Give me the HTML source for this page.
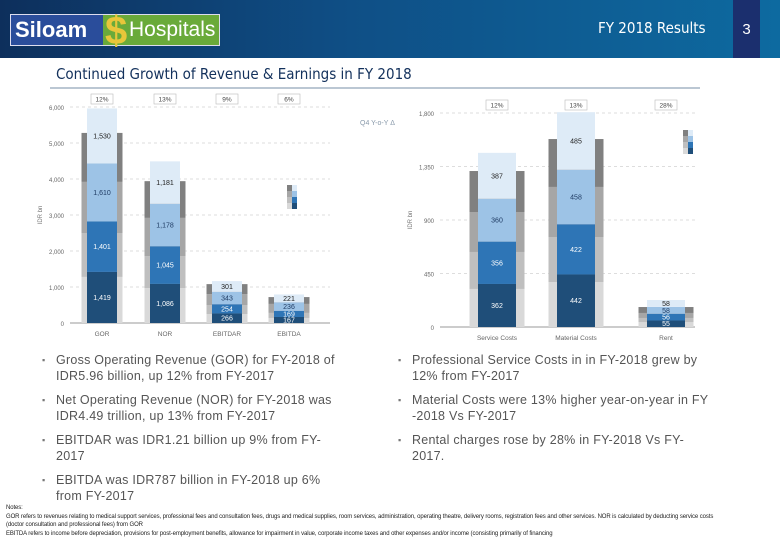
<!DOCTYPE html>
<html><head><meta charset="utf-8"><style>
body{margin:0;width:780px;height:540px;overflow:hidden;background:#fff;font-family:"Liberation Sans",sans-serif;position:relative}
.hdr{position:absolute;left:0;top:0;width:780px;height:58px;background:linear-gradient(90deg,#0d2f5c 0%,#0f4f86 45%,#0d6aa0 100%)}
.pg{position:absolute;left:733px;top:0;width:27px;height:58px;background:#1b2f6e;color:#fff;font-size:15px;text-align:center;line-height:60px}
.res{position:absolute;left:598px;top:19px;color:#fff;font-size:15px;font-family:"DejaVu Sans Condensed","Liberation Sans",sans-serif}
.logo{position:absolute;left:10px;top:14px;width:208px;height:30px;background:#6aaa3a;border:1px solid #dde}
.logo .s{position:absolute;left:0;top:0;width:92px;height:30px;background:#2a4d9b;color:#fff;font-weight:bold;font-size:22px;line-height:30px;padding-left:4px;box-sizing:border-box}
.logo .h{position:absolute;left:118px;top:0;color:#fff;font-size:21px;line-height:30px}
.logo .c{position:absolute;left:94px;top:-9px;width:20px;height:50px;color:#e8c63a;font-size:40px;line-height:50px;font-weight:bold}
.title{position:absolute;left:56px;top:65px;font-size:15px;color:#13315c;font-family:"DejaVu Sans Condensed","Liberation Sans",sans-serif}
.bl{position:absolute;font-size:12.5px;color:#555;line-height:16px;letter-spacing:0.25px}
.bl:before{content:"▪";position:absolute;left:-14px;font-size:9px;color:#777}
.notes{position:absolute;left:6px;top:504px;font-size:6px;color:#222;line-height:8.5px;width:720px;letter-spacing:-0.1px}
</style></head><body>
<div class="hdr"></div>
<div class="logo"><div class="s">Siloam</div><div class="c">$</div><div class="h">Hospitals</div></div>
<div class="res">FY 2018 Results</div>
<div class="pg">3</div>
<div class="title">Continued Growth of Revenue &amp; Earnings in FY 2018</div>
<svg id="c" width="780" height="350" style="position:absolute;left:0;top:0"></svg>
<div class="bl" style="left:56px;top:352px;width:295px">Gross Operating Revenue (GOR) for FY-2018 of IDR5.96 billion, up 12% from FY-2017</div>
<div class="bl" style="left:56px;top:392px;width:280px">Net Operating Revenue (NOR) for FY-2018 was IDR4.49 trillion, up 13% from FY-2017</div>
<div class="bl" style="left:56px;top:432px;width:285px">EBITDAR was IDR1.21 billion up 9% from FY-2017</div>
<div class="bl" style="left:56px;top:472px;width:290px">EBITDA was IDR787 billion in FY-2018 up 6% from FY-2017</div>
<div class="bl" style="left:412px;top:352px;width:310px">Professional Service Costs in in FY-2018 grew by 12% from FY-2017</div>
<div class="bl" style="left:412px;top:392px;width:320px">Material Costs were 13% higher year-on-year in FY -2018 Vs FY-2017</div>
<div class="bl" style="left:412px;top:432px;width:300px">Rental charges rose by 28% in FY-2018 Vs FY-2017.</div>
<div class="notes">Notes:<br>GOR refers to revenues relating to medical support services, professional fees and consultation fees, drugs and medical supplies, room services, administration, operating theatre, delivery rooms, registration fees and other services. NOR is calculated by deducting service costs (doctor consultation and professional fees) from GOR<br>EBITDA refers to income before depreciation, provisions for post-employment benefits, allowance for impairment in value, corporate income taxes and other expenses and/or income (consisting primarily of financing</div>
<script>
const NS="http://www.w3.org/2000/svg";
const svg=document.getElementById('c');
const cats1=["GOR","NOR","EBITDAR","EBITDA"];
const q2018a=[[1419,1401,1610,1530],[1086,1045,1178,1181],[266,254,343,301],[167,169,236,221]];
const q2017a=[[1280,1220,1420,1360],[970,890,1060,1020],[250,250,300,280],[140,140,250,190]];
const growth1=["12%","13%","9%","6%"];
const ticks1=[0,1000,2000,3000,4000,5000,6000];
const cats2=["Service Costs","Material Costs","Rent"];
const q2018b=[[362,356,360,387],[442,422,458,485],[55,56,58,58]];
const q2017b=[[320,311,336,345],[378,379,421,403],[42,34,42,50]];
const growth2=["12%","13%","28%"];
const ticks2=[0,450,900,1350,1800];
const blues=["#1f4e79","#2e75b6","#9dc3e6","#deebf7"];
const grays=["#d9d9d9","#bfbfbf","#a6a6a6","#808080"];
const txtc=["#fff","#fff","#1f3b63","#222"];
function el(t,a,txt){const e=document.createElementNS(NS,t);for(const k in a)e.setAttribute(k,a[k]);if(txt!==undefined)e.textContent=txt;svg.appendChild(e);return e;}
function chart(cats,q18,q17,gr,ticks,max,y0,y1,x0,x1,cx,bw,gw,axisName,fmt){
  const Y=v=>y0-(v/max)*(y0-y1);
  ticks.forEach(t=>{const g=el('line',{x1:x0,x2:x1,y1:Y(t),y2:Y(t),stroke:t?'#ddd':'#999','stroke-dasharray':t?'3,3':'0'});
    const l=el('text',{x:x0-6,y:Y(t)+3,'font-size':6,fill:'#666','text-anchor':'end'},t.toLocaleString('en-US'));});
  cats.forEach((c,i)=>{const x=cx[i];let s=0;
    q17[i].forEach((v,j)=>{const r=el('rect',{x:x-gw/2,y:Y(s+v),width:gw,height:Y(s)-Y(s+v),fill:grays[j]});s+=v;});
    s=0;
    q18[i].forEach((v,j)=>{const r=el('rect',{x:x-bw/2,y:Y(s+v),width:bw,height:Y(s)-Y(s+v),fill:blues[j]});
      const t=el('text',{x:x,y:(Y(s)+Y(s+v))/2+2.5,'font-size':7,fill:txtc[j],'text-anchor':'middle'},fmt(v));s+=v;});
    const lb=el('text',{x:x,y:y0+13,'font-size':6.5,fill:'#666','text-anchor':'middle'},c);
    const b=el('rect',{x:x-11,y:y1-13,width:22,height:10,fill:'#fff',stroke:'#bbb','stroke-width':0.6});
    const g=el('text',{x:x,y:y1-5.5,'font-size':6.5,fill:'#444','text-anchor':'middle'},gr[i]);
  });
  const a=el('text',{x:0,y:0,'font-size':6,fill:'#777','text-anchor':'middle',transform:`translate(${x0-28},${(y0+y1)/2}) rotate(-90)`},axisName);
}
chart(cats1,q2018a,q2017a,growth1,ticks1,6000,323,107,70,330,[102,165,227,289],30,41,"IDR bn",v=>v.toLocaleString('en-US'));
chart(cats2,q2018b,q2017b,growth2,ticks2,1800,327,113,440,695,[497,576,666],38,55,"IDR bn",v=>v.toLocaleString('en-US'));
const yoy=el('text',{x:360,y:125,'font-size':7,fill:'#8899aa'},"Q4 Y-o-Y Δ");
[[287,185],[683,130]].forEach(p=>{for(let j=0;j<4;j++){const r=el('rect',{x:p[0],y:p[1]+(3-j)*6,width:5,height:6,fill:grays[j]});
const r2=el('rect',{x:p[0]+5,y:p[1]+(3-j)*6,width:5,height:6,fill:blues[j]});}});
const ln=el('line',{x1:50,x2:700,y1:88,y2:88,stroke:'#4a6a8a','stroke-width':0.7});
</script>
</body></html>
